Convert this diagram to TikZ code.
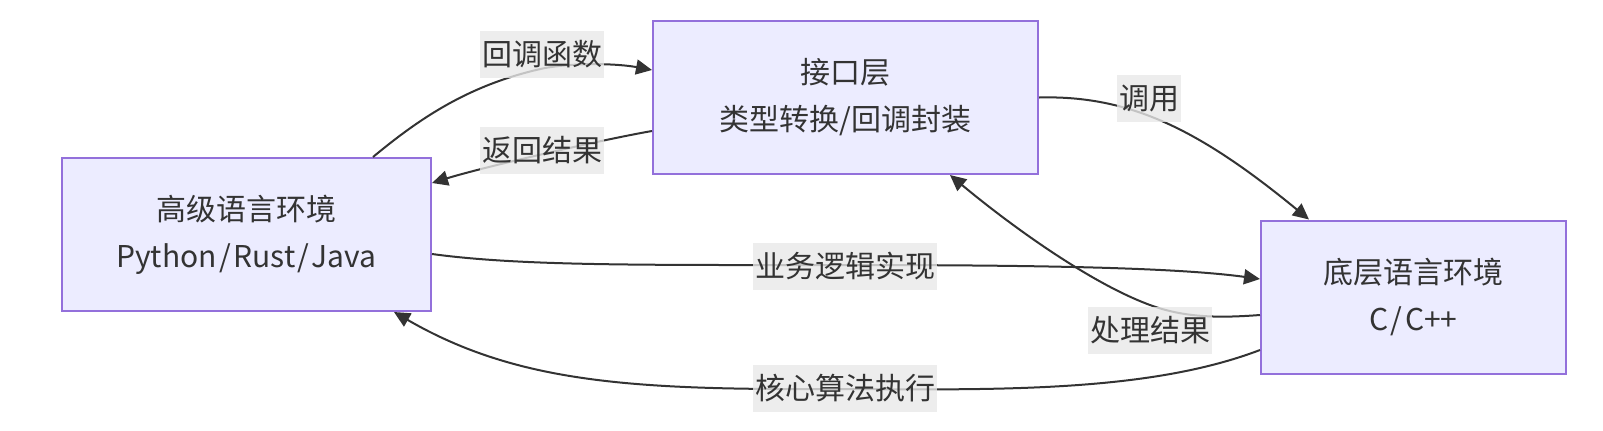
\documentclass[tikz,border=0pt]{standalone}
\usepackage{fontspec}
\setmainfont{Noto Sans CJK SC}
\usetikzlibrary{arrows.meta}

\definecolor{boxfill}{HTML}{ECECFF}
\definecolor{boxline}{HTML}{9370DB}
\definecolor{ink}{HTML}{333333}
\definecolor{lblbg}{HTML}{E8E8E8}

\newcommand{\slsep}{\kern1.2pt/\kern1.2pt}

\begin{document}
\begin{tikzpicture}[x=0.5pt, y=-0.5pt,
  box/.style={draw=boxline, fill=boxfill, line width=1pt, inner sep=0pt,
    minimum height=76.5pt, align=center, text=ink,
    font=\fontsize{15}{23.5}\selectfont},
  lbl/.style={fill=lblbg, fill opacity=0.8, text opacity=1, inner xsep=1pt,
    inner ysep=0pt, minimum height=23.5pt, text=ink,
    font=\fontsize{15}{18}\selectfont},
  flow/.style={draw=ink, line width=1pt, -{Triangle[length=8pt,width=7.5pt]}}]
\useasboundingbox (0,0) rectangle (1603,430);

% Boxes
\node[box, minimum width=184.5pt] (hl) at (246.5,234.5) {高级语言环境\\Python\slsep Rust\slsep Java};
\node[box, minimum width=192.5pt] (if) at (845.5,97.5) {接口层\\类型转换/回调封装};
\node[box, minimum width=152.5pt] (ll) at (1413.5,297) {底层语言环境\\C\slsep C++};

% Connectors
\draw[flow] ([xshift=-29.5pt]hl.north east) .. controls (420,118) and (470,84) .. (545,68)
  .. controls (580,62) and (620,64) .. ([yshift=13.75pt]if.west);
\draw[flow] ([yshift=-16.75pt]if.west) .. controls (600,140) and (480,168) .. ([yshift=25.75pt]hl.east);
\draw[flow] (if.east) .. controls (1130,95) and (1200,130) .. ([xshift=24.5pt]ll.north west);
\draw[flow] ([yshift=-9.75pt]hl.east) .. controls (520,266) and (640,265) .. (845,265)
  .. controls (1050,265) and (1180,268) .. ([yshift=9pt]ll.west);
\draw[flow] ([yshift=-9pt]ll.west) .. controls (1220,318) and (1185,318) .. (1150,305)
  .. controls (1090,283) and (1010,225) .. ([xshift=52.25pt]if.south);
\draw[flow] ([yshift=-26.5pt]ll.west) .. controls (1150,392) and (1000,390) .. (845,389)
  .. controls (640,390) and (520,385) .. ([xshift=-19pt]hl.south east);

% Edge labels
\node[lbl] (cb) at (542,54) {回调函数};
\node[lbl] (ret) at (542,150) {返回结果};
\node[lbl] (call) at (1149,98) {调用};
\node[lbl] (biz) at (845,266) {业务逻辑实现};
\node[lbl] (res) at (1150,330) {处理结果};
\node[lbl] (core) at (845,388) {核心算法执行};
\end{tikzpicture}
\end{document}
